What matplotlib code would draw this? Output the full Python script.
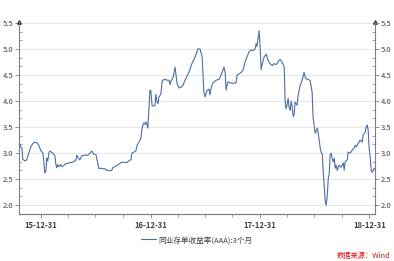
"""
同业存单收益率(AAA):3个月
"""

import pandas as pd
import matplotlib
matplotlib.use('Agg')
from matplotlib import pyplot as plt
import matplotlib.dates as mdates
from matplotlib.ticker import MultipleLocator, FormatStrFormatter

plt.rcParams['font.family'] = ['Noto Sans CJK SC', 'DejaVu Sans']

dates = [
    '2015-10-19', '2015-10-22', '2015-10-25', '2015-10-29', '2015-11-01', '2015-11-08',
    '2015-11-14', '2015-11-21', '2015-11-28', '2015-12-04', '2015-12-11', '2015-12-18',
    '2015-12-24', '2015-12-31', '2016-01-07', '2016-01-10', '2016-01-13', '2016-01-17',
    '2016-01-20', '2016-01-23', '2016-01-27', '2016-01-30', '2016-02-02', '2016-02-09',
    '2016-02-16', '2016-02-19', '2016-02-22', '2016-02-26', '2016-02-29', '2016-03-07',
    '2016-03-10', '2016-03-17', '2016-03-24', '2016-03-30', '2016-04-06', '2016-04-13',
    '2016-04-19', '2016-04-26', '2016-04-29', '2016-05-03', '2016-05-09', '2016-05-16',
    '2016-05-26', '2016-06-05', '2016-06-12', '2016-06-18', '2016-06-25', '2016-07-02',
    '2016-07-08', '2016-07-12', '2016-07-18', '2016-07-25', '2016-08-01', '2016-08-07',
    '2016-08-17', '2016-08-24', '2016-08-27', '2016-09-06', '2016-09-13', '2016-09-20',
    '2016-09-27', '2016-10-03', '2016-10-13', '2016-10-20', '2016-10-27', '2016-10-30',
    '2016-11-06', '2016-11-12', '2016-11-16', '2016-11-22', '2016-11-26', '2016-11-29',
    '2016-12-02', '2016-12-06', '2016-12-09', '2016-12-12', '2016-12-16', '2016-12-19',
    '2016-12-22', '2016-12-26', '2016-12-29', '2017-01-01', '2017-01-05', '2017-01-11',
    '2017-01-15', '2017-01-18', '2017-01-21', '2017-01-25', '2017-01-28', '2017-01-31',
    '2017-02-04', '2017-02-07', '2017-02-10', '2017-02-17', '2017-02-24', '2017-03-03',
    '2017-03-06', '2017-03-09', '2017-03-16', '2017-03-23', '2017-03-26', '2017-03-29',
    '2017-04-05', '2017-04-12', '2017-04-18', '2017-04-25', '2017-05-02', '2017-05-08',
    '2017-05-12', '2017-05-18', '2017-05-25', '2017-06-01', '2017-06-07', '2017-06-14',
    '2017-06-21', '2017-06-24', '2017-06-27', '2017-07-01', '2017-07-07', '2017-07-14',
    '2017-07-17', '2017-07-21', '2017-07-27', '2017-08-07', '2017-08-17', '2017-08-23',
    '2017-08-30', '2017-09-02', '2017-09-06', '2017-09-09', '2017-09-12', '2017-09-16',
    '2017-09-22', '2017-10-02', '2017-10-12', '2017-10-16', '2017-10-22', '2017-10-29',
    '2017-11-05', '2017-11-11', '2017-11-18', '2017-11-25', '2017-12-01', '2017-12-08',
    '2017-12-15', '2017-12-18', '2017-12-21', '2017-12-25', '2017-12-28', '2017-12-31',
    '2018-01-04', '2018-01-07', '2018-01-14', '2018-01-21', '2018-01-27', '2018-02-03',
    '2018-02-10', '2018-02-16', '2018-02-23', '2018-03-02', '2018-03-08', '2018-03-15',
    '2018-03-22', '2018-03-25', '2018-03-28', '2018-04-01', '2018-04-04', '2018-04-07',
    '2018-04-11', '2018-04-14', '2018-04-17', '2018-04-21', '2018-04-24', '2018-04-27',
    '2018-05-04', '2018-05-07', '2018-05-14', '2018-05-21', '2018-05-27', '2018-05-31',
    '2018-06-06', '2018-06-16', '2018-06-23', '2018-06-26', '2018-07-03', '2018-07-10',
    '2018-07-13', '2018-07-20', '2018-07-23', '2018-07-27', '2018-07-30', '2018-08-02',
    '2018-08-06', '2018-08-09', '2018-08-12', '2018-08-16', '2018-08-19', '2018-08-22',
    '2018-08-26', '2018-08-29', '2018-09-01', '2018-09-05', '2018-09-08', '2018-09-11',
    '2018-09-15', '2018-09-21', '2018-09-28', '2018-10-05', '2018-10-08', '2018-10-11',
    '2018-10-18', '2018-10-21', '2018-10-28', '2018-11-04', '2018-11-10', '2018-11-14',
    '2018-11-17', '2018-11-24', '2018-11-30', '2018-12-07', '2018-12-10', '2018-12-17',
    '2018-12-20', '2018-12-24', '2018-12-27', '2018-12-30', '2019-01-03', '2019-01-06',
    '2019-01-09', '2019-01-16', '2019-01-19',
]

rates = [
    3.15, 3.18, 3.12, 3.10, 2.88, 2.85,
    2.87, 3.00, 3.12, 3.18, 3.21, 3.20,
    3.15, 3.05, 3.00, 2.85, 2.62, 2.65,
    2.90, 2.85, 3.00, 3.04, 3.03, 3.00,
    2.95, 2.80, 2.72, 2.78, 2.74, 2.78,
    2.74, 2.76, 2.80, 2.80, 2.82, 2.82,
    2.84, 2.86, 2.96, 2.92, 2.87, 2.95,
    2.96, 2.96, 3.00, 3.04, 2.98, 2.97,
    2.80, 2.70, 2.71, 2.70, 2.70, 2.67,
    2.66, 2.67, 2.72, 2.75, 2.78, 2.80,
    2.83, 2.82, 2.82, 2.85, 2.88, 3.00,
    3.02, 3.04, 3.15, 3.21, 3.25, 3.30,
    3.45, 3.55, 3.58, 3.55, 3.60, 3.55,
    3.48, 3.88, 4.21, 4.20, 3.92, 3.90,
    3.92, 4.13, 4.00, 3.95, 4.08, 4.10,
    4.15, 4.35, 4.40, 4.42, 4.40, 4.40,
    4.32, 4.38, 4.45, 4.65, 4.50, 4.35,
    4.25, 4.27, 4.30, 4.40, 4.48, 4.55,
    4.62, 4.72, 4.80, 4.90, 5.00, 5.00,
    4.85, 4.50, 4.17, 4.08, 4.20, 4.23,
    4.12, 4.25, 4.35, 4.40, 4.42, 4.50,
    4.60, 4.65, 4.55, 4.21, 4.30, 4.37,
    4.35, 4.34, 4.35, 4.50, 4.52, 4.55,
    4.60, 4.75, 4.85, 4.95, 4.98, 4.97,
    5.00, 5.10, 5.05, 5.22, 5.35, 5.10,
    4.60, 4.70, 4.85, 4.90, 4.78, 4.72,
    4.68, 4.72, 4.70, 4.76, 4.80, 4.75,
    4.65, 4.00, 3.85, 3.95, 4.05, 3.88,
    3.82, 4.00, 3.90, 3.70, 3.75, 3.98,
    3.92, 4.10, 4.30, 4.40, 4.55, 4.46,
    4.42, 4.40, 4.17, 3.70, 3.38, 3.48,
    3.40, 3.10, 3.02, 2.98, 2.65, 2.40,
    2.05, 2.00, 2.15, 2.52, 2.60, 2.96,
    3.00, 2.90, 2.83, 2.90, 2.71, 2.77,
    2.67, 2.77, 2.73, 2.81, 2.67, 2.83,
    2.87, 3.02, 3.00, 3.06, 3.10, 3.15,
    3.12, 3.19, 3.25, 3.21, 3.35, 3.40,
    3.50, 3.54, 3.44, 3.10, 2.90, 2.67,
    2.63, 2.71, 2.70,
]

year_ticks = ['2015-12-31', '2016-12-31', '2017-12-31', '2018-12-31']
y_ticks = [2.0, 2.5, 3.0, 3.5, 4.0, 4.5, 5.0, 5.5]
series_name = '同业存单收益率(AAA):3个月'
source_text = '数据来源：Wind'

line_color = '#4a6fa3'
axis_color = '#7f7f7f'
label_color = '#404040'


def style_y(ax, side):
    ax.set_ylim(1.83, 5.52)
    ax.set_yticks(y_ticks)
    ax.yaxis.set_major_formatter(FormatStrFormatter('%.1f'))
    ax.yaxis.set_minor_locator(MultipleLocator(0.5 / 3))
    ax.tick_params(axis='y', which='major', length=3, width=0.6, color=axis_color,
                   labelsize=5.5, labelcolor=label_color, pad=1, direction='out')
    ax.tick_params(axis='y', which='minor', length=2, width=0.5, color=axis_color,
                   direction='in')
    if side == 'right':
        ax.yaxis.tick_right()


if __name__ == '__main__':
    fig = plt.figure(figsize=(3.94, 2.61), dpi=100)
    ax = fig.add_axes([0.048, 0.180, 0.904, 0.736])

    x = pd.to_datetime(dates)
    ax.plot(x, rates, color=line_color, lw=0.8, label=series_name, zorder=3)

    ax.set_xlim(pd.Timestamp('2015-10-19'), pd.Timestamp('2019-01-19'))
    ax.set_xticks(pd.to_datetime(year_ticks))
    ax.xaxis.set_major_formatter(mdates.DateFormatter('%y-%m-%d'))
    ax.xaxis.set_minor_locator(mdates.MonthLocator(bymonth=[3, 6, 9, 12], bymonthday=-1))
    ax.tick_params(axis='x', which='major', length=3, width=0.6, color=axis_color,
                   labelsize=5.5, labelcolor=label_color, pad=2)
    ax.tick_params(axis='x', which='minor', length=2, width=0.5, color=axis_color)
    for lab in ax.get_xticklabels():
        lab.set_fontweight('bold')

    style_y(ax, 'left')
    ax.grid(axis='y', color='#e3e3e3', lw=0.6, zorder=0)

    ax2 = ax.twinx()
    style_y(ax2, 'right')

    for a in (ax, ax2):
        a.spines['top'].set_visible(False)
        for s in ('left', 'right', 'bottom'):
            a.spines[s].set_color(axis_color)
            a.spines[s].set_linewidth(0.8)
    ax.spines['right'].set_visible(False)
    ax2.spines['left'].set_visible(False)

    # little markers at the top of both y axes
    ax.plot([0], [1], marker='^', ms=2.5, color='#303030', transform=ax.transAxes, clip_on=False)
    ax.plot([1], [1], marker='^', ms=2.5, color='#303030', transform=ax.transAxes, clip_on=False)

    fig.legend(loc='center', bbox_to_anchor=(0.5, 0.08), frameon=False,
               fontsize=5.5, handlelength=2.0, handletextpad=0.3, labelcolor=label_color)

    fig.text(0.99, 0.005, source_text, color='#e01010', fontsize=5.2, style='italic',
             ha='right', va='bottom')

    fig.savefig('out.png', dpi=100)
